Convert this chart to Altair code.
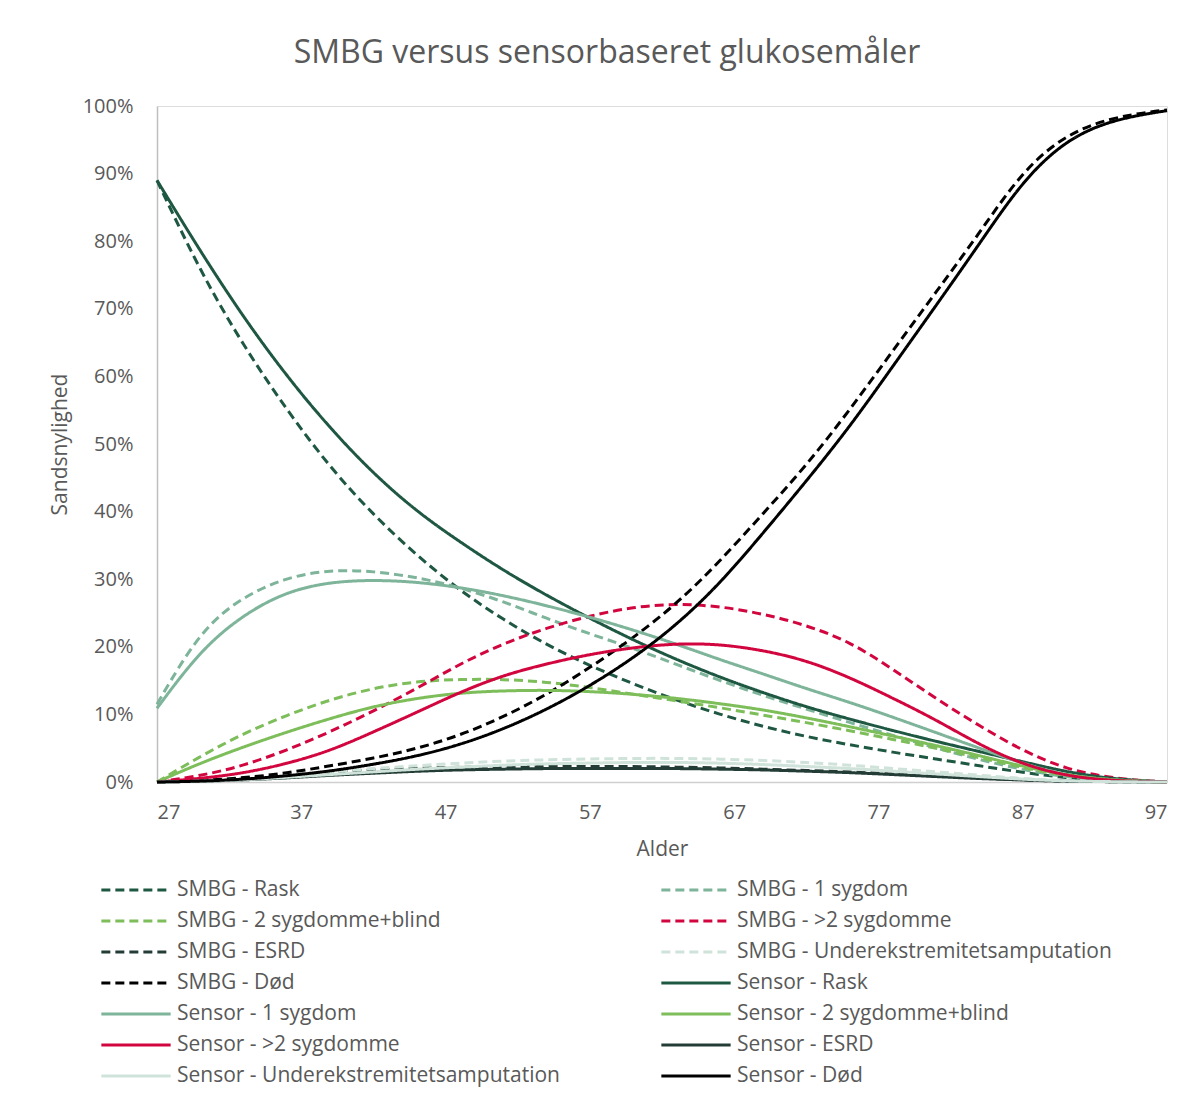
import altair as alt
import pandas as pd

ages = [27, 30, 33, 36, 39, 42, 45, 48, 51, 54, 57, 60, 63, 66, 69, 72, 75, 78, 81, 84, 87, 90, 93, 96, 97]

smbg_rask = [89, 75.5, 64.5, 55, 46.5, 39.5, 33.5, 28.3, 24.0, 20.3, 17.2, 14.5, 12.1, 10.0, 8.2, 6.7, 5.5, 4.4, 3.4, 2.4, 1.4, 0.6, 0.2, 0.05, 0]
smbg_1 = [11.5, 22.5, 27.5, 30.3, 31.4, 31.2, 30.3, 28.8, 26.7, 24.2, 21.9, 19.8, 17.4, 15.0, 12.8, 10.8, 8.8, 6.9, 5.0, 3.3, 1.8, 0.7, 0.2, 0.05, 0]
smbg_2 = [0, 3.8, 7.2, 9.9, 12.2, 13.9, 14.9, 15.2, 15.2, 14.8, 14.0, 13.0, 12.0, 11.0, 9.9, 8.8, 7.6, 6.3, 5.0, 3.6, 2.1, 0.9, 0.3, 0.05, 0]
smbg_3 = [0, 0.9, 2.4, 4.7, 7.4, 10.5, 13.8, 17.5, 20.5, 22.8, 24.6, 25.9, 26.4, 26.0, 24.9, 23.2, 20.8, 16.7, 12.3, 8.3, 4.6, 1.9, 0.6, 0.1, 0]
smbg_esrd = [0, 0.2, 0.5, 1.0, 1.4, 1.8, 2.0, 2.2, 2.3, 2.3, 2.3, 2.3, 2.2, 2.1, 1.9, 1.7, 1.5, 1.2, 0.9, 0.6, 0.3, 0.1, 0.05, 0, 0]
smbg_amp = [0, 0.2, 0.5, 1.0, 1.5, 2.0, 2.4, 2.8, 3.1, 3.3, 3.4, 3.5, 3.5, 3.4, 3.2, 2.9, 2.5, 2.0, 1.5, 1.0, 0.5, 0.2, 0.05, 0, 0]
smbg_dod = [0, 0.2, 0.6, 1.3, 2.4, 3.5, 4.9, 6.9, 9.6, 12.9, 16.9, 21.3, 26.3, 32.6, 39.7, 46.8, 55.0, 63.8, 72.5, 81.2, 90.5, 95.8, 98.2, 99.2, 99.4]

sensor_rask = [89, 78.5, 68.7, 60.0, 52.3, 45.6, 40.0, 35.5, 31.3, 27.6, 24.2, 21.0, 18.1, 15.5, 13.2, 11.1, 9.3, 7.6, 6.0, 4.5, 3.0, 1.5, 0.5, 0.1, 0]
sensor_1 = [10.9, 19.5, 24.8, 28.2, 29.6, 29.9, 29.6, 28.8, 27.6, 26.1, 24.4, 22.5, 20.4, 18.1, 16.0, 13.8, 11.8, 9.6, 7.3, 5.0, 2.7, 1.0, 0.3, 0.05, 0]
sensor_2 = [0, 2.8, 5.2, 7.4, 9.4, 11.2, 12.4, 13.2, 13.5, 13.6, 13.4, 13.0, 12.4, 11.6, 10.7, 9.5, 8.2, 6.8, 5.4, 3.9, 2.3, 1.0, 0.3, 0.05, 0]
sensor_3 = [0, 0.5, 1.3, 2.7, 4.6, 7.4, 10.3, 13.3, 15.8, 17.5, 18.9, 19.9, 20.5, 20.4, 19.5, 18.0, 15.5, 12.4, 9.2, 5.5, 2.6, 0.9, 0.2, 0.05, 0]
sensor_esrd = [0, 0.1, 0.3, 0.6, 1.0, 1.3, 1.6, 1.8, 1.9, 2.0, 2.0, 2.0, 2.0, 1.9, 1.8, 1.6, 1.4, 1.1, 0.8, 0.5, 0.3, 0.1, 0.05, 0, 0]
sensor_amp = [0, 0.1, 0.3, 0.7, 1.1, 1.5, 1.9, 2.2, 2.5, 2.7, 2.8, 2.9, 2.9, 2.8, 2.6, 2.3, 2.0, 1.6, 1.2, 0.8, 0.4, 0.15, 0.05, 0, 0]
sensor_dod = [0, 0.1, 0.4, 0.9, 1.6, 2.6, 3.8, 5.5, 7.8, 10.7, 14.2, 18.3, 23.2, 29.3, 36.8, 44.5, 52.5, 61.5, 70.5, 79.6, 89.0, 95.0, 97.8, 99.0, 99.3]

series_names = [
    "SMBG - Rask", "SMBG - 1 sygdom", "SMBG - 2 sygdomme+blind", "SMBG - >2 sygdomme",
    "SMBG - ESRD", "SMBG - Underekstremitetsamputation", "SMBG - Død",
    "Sensor - Rask", "Sensor - 1 sygdom", "Sensor - 2 sygdomme+blind", "Sensor - >2 sygdomme",
    "Sensor - ESRD", "Sensor - Underekstremitetsamputation", "Sensor - Død",
]
series_values = [smbg_rask, smbg_1, smbg_2, smbg_3, smbg_esrd, smbg_amp, smbg_dod,
                 sensor_rask, sensor_1, sensor_2, sensor_3, sensor_esrd, sensor_amp, sensor_dod]

base_colors = ["#1F5842", "#7DB49A", "#7DBD5A", "#D2063F", "#233D36", "#CFE3DA", "#000000"]
colors = base_colors + base_colors
dashes = [[9, 5]] * 7 + [[1, 0]] * 7

x_ticks = [27, 37, 47, 57, 67, 77, 87, 97]

rows = []
for name, vals in zip(series_names, series_values):
    grp = "SMBG" if name.startswith("SMBG") else "Sensor"
    for a, v in zip(ages, vals):
        rows.append({"Alder": a, "p": v / 100.0, "serie": name, "grp": grp})
df = pd.DataFrame(rows)

FONT = "Open Sans"
GRAY = "#595959"

legend = alt.Legend(
    title=None, orient="none", legendX=-33, legendY=772, columns=2, direction="horizontal",
    columnPadding=95, rowPadding=9, symbolType="M-3.3,0H3.3", symbolSize=441,
    symbolStrokeWidth=3, labelFontSize=21, labelFont=FONT, labelColor=GRAY,
    labelOffset=29, padding=0, labelLimit=500,
)

color = alt.Color("serie:N", scale=alt.Scale(domain=series_names, range=colors), legend=legend)
dash = alt.StrokeDash("serie:N", scale=alt.Scale(domain=series_names, range=dashes), legend=legend)

base = alt.Chart(df).mark_line(strokeWidth=3, interpolate="basis").encode(
    x=alt.X("Alder:Q", scale=alt.Scale(domain=[27, 97], nice=False, zero=False),
            axis=alt.Axis(values=x_ticks, title="Alder", grid=False, ticks=False,
                          domainColor="#D0D0D0", domainWidth=1.5, labelFontSize=20,
                          labelColor=GRAY, labelFont=FONT, labelPadding=20,
                          titleFontSize=21, titleColor=GRAY, titleFont=FONT,
                          titleFontWeight="normal", titlePadding=16)),
    y=alt.Y("p:Q", scale=alt.Scale(domain=[0, 1], nice=False),
            axis=alt.Axis(format=".0%", values=[i / 10 for i in range(11)], title="Sandsnylighed",
                          grid=False, ticks=False, domainColor="#BFBFBF", domainWidth=1.5,
                          labelFontSize=20, labelColor=GRAY, labelFont=FONT, labelPadding=24,
                          titleFontSize=21, titleColor=GRAY, titleFont=FONT,
                          titleFontWeight="normal", titlePadding=12)),
    color=color,
    strokeDash=dash,
)

chart = alt.layer(
    base.transform_filter(alt.datum.grp == "SMBG"),
    base.transform_filter(alt.datum.grp == "Sensor"),
).properties(
    width=1010, height=676,
    title=alt.TitleParams("SMBG versus sensorbaseret glukosemåler", fontSize=32, font=FONT,
                          color=GRAY, fontWeight="normal", anchor="middle", dx=-55, offset=26),
    autosize=alt.AutoSizeParams(type="none"),
    padding={"left": 149, "top": 98, "right": 22, "bottom": 320},
).configure_view(stroke=None).configure(background="white")

chart.save("out.html", embed_options={"renderer": "svg", "actions": False})
